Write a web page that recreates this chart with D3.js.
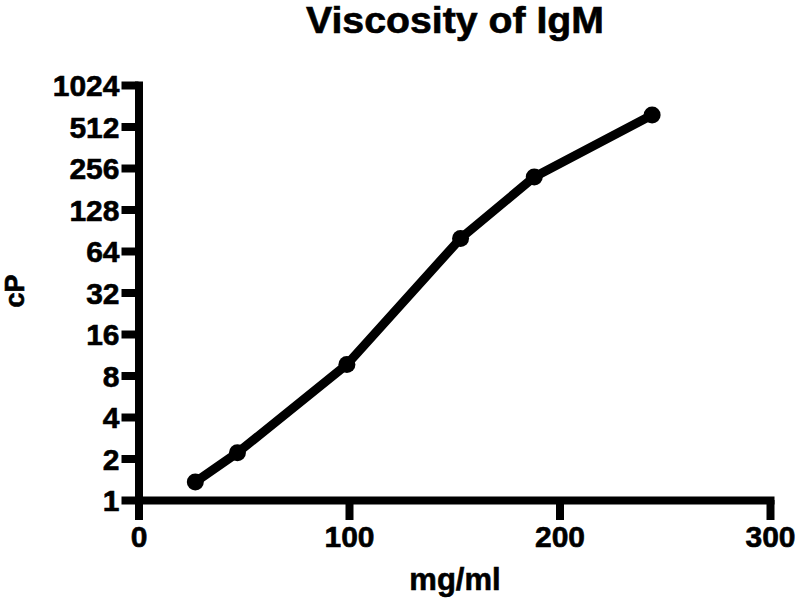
<!DOCTYPE html>
<html lang="en">
<head>
  <meta charset="UTF-8">
  <title>Viscosity of IgM</title>
  <script src="https://cdnjs.cloudflare.com/ajax/libs/d3/7.8.5/d3.min.js"></script>
  <style>
    body { margin: 0; background: #fff; }
    svg { display: block; }
    text { font-family: 'Liberation Sans', Arial, sans-serif; font-weight: bold; fill: #000; }
  </style>
</head>
<body>
<script>
  // data
  const concentration = [27, 47, 99, 153, 188, 244];   // mg/ml
  const viscosity = [1.35, 2.2, 9.6, 79, 220, 620];    // cP
  const xTicks = [0, 100, 200, 300];
  const yTicks = [1, 2, 4, 8, 16, 32, 64, 128, 256, 512, 1024];

  const width = 800, height = 610;
  const margin = { top: 85, right: 30, bottom: 110, left: 138.5 };

  const svg = d3.select("body").append("svg")
    .attr("width", width)
    .attr("height", height);

  const x = d3.scaleLinear()
    .domain([0, 300])
    .range([margin.left, width - margin.right]);

  const y = d3.scaleLog()
    .base(2)
    .domain([1, 1024])
    .range([height - margin.bottom, margin.top]);

  // axes
  const xAxis = svg.append("g")
    .attr("transform", `translate(0,${height - margin.bottom})`)
    .call(d3.axisBottom(x).tickValues(xTicks).tickSize(20).tickSizeOuter(0).tickPadding(6));

  const yAxis = svg.append("g")
    .attr("transform", `translate(${margin.left},0)`)
    .call(d3.axisLeft(y).tickValues(yTicks).tickFormat(d3.format("d")).tickSize(17).tickSizeOuter(0).tickPadding(2));

  [xAxis, yAxis].forEach(g => {
    g.select(".domain").attr("stroke", "#000").attr("stroke-width", 8).attr("stroke-linecap", "square");
    g.selectAll(".tick line").attr("stroke", "#000").attr("stroke-width", 8);
    g.selectAll(".tick text")
      .style("font-family", "'Liberation Sans', Arial, sans-serif")
      .style("font-weight", "bold")
      .style("font-size", "30px")
      .attr("fill", "#000")
      .attr("stroke", "#000")
      .attr("stroke-width", 0.6);
  });
  yAxis.selectAll(".tick text").attr("dy", "0.36em");

  // line + points
  const pts = concentration.map((c, i) => [c, viscosity[i]]);

  svg.append("path")
    .datum(pts)
    .attr("fill", "none")
    .attr("stroke", "#000")
    .attr("stroke-width", 9)
    .attr("stroke-linejoin", "round")
    .attr("d", d3.line().x(d => x(d[0])).y(d => y(d[1])));

  svg.selectAll(".pt")
    .data(pts)
    .enter().append("circle")
    .attr("class", "pt")
    .attr("cx", d => x(d[0]))
    .attr("cy", d => y(d[1]))
    .attr("r", 8.5)
    .attr("fill", "#000");

  // titles
  svg.append("text")
    .attr("x", 455)
    .attr("y", 33)
    .attr("text-anchor", "middle")
    .attr("textLength", 298)
    .attr("lengthAdjust", "spacingAndGlyphs")
    .attr("stroke", "#000")
    .attr("stroke-width", 0.6)
    .style("font-size", "36px")
    .text("Viscosity of IgM");

  svg.append("text")
    .attr("x", 455)
    .attr("y", 590)
    .attr("text-anchor", "middle")
    .attr("stroke", "#000")
    .attr("stroke-width", 0.6)
    .style("font-size", "31px")
    .text("mg/ml");

  svg.append("text")
    .attr("transform", "translate(24,291) rotate(-90)")
    .attr("text-anchor", "middle")
    .attr("stroke", "#000")
    .attr("stroke-width", 0.6)
    .style("font-size", "27px")
    .text("cP");
</script>
</body>
</html>
